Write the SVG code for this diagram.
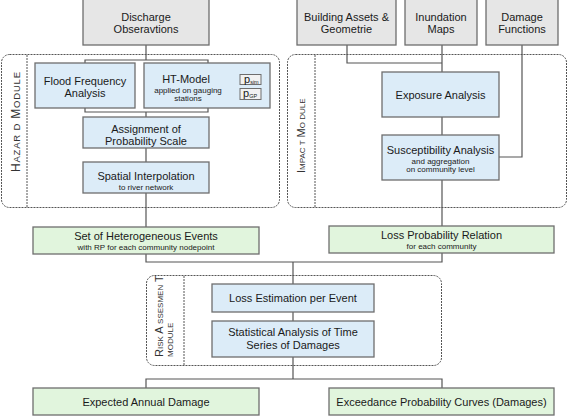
<svg xmlns="http://www.w3.org/2000/svg" width="568" height="416" viewBox="0 0 568 416">
<style>
text{font-family:"Liberation Sans",Arial,sans-serif;fill:#1a1a1a;text-anchor:middle}
.t{font-size:11px}
.s{font-size:8px}
.grey{fill:#e6e6e6;stroke:#6e6e6e;stroke-width:1.3}
.blue{fill:#dcecf8;stroke:#6e6e6e;stroke-width:1.3}
.green{fill:#e1f5dd;stroke:#6e6e6e;stroke-width:1.3}
.mod{fill:none;stroke:#555;stroke-width:1;stroke-dasharray:2,1}
.div{stroke:#555;stroke-width:1;stroke-dasharray:2,1}
.pb{fill:#f2f2f2;stroke:#6e6e6e;stroke-width:1}
.vl{text-anchor:start;font-size:11px;fill:#333}
.sc{font-size:8px}
#conn path{fill:none;stroke:#555;stroke-width:1.2}
</style>

<g id="hazard-module">
<rect class="mod" x="1.5" y="54.5" width="278" height="153" rx="8"/>
<line class="div" x1="27" y1="55" x2="27" y2="207"/>
<text class="vl" transform="translate(19.5,172) rotate(-90)" style="font-size:12px;letter-spacing:0.8px">H<tspan style="font-size:9.5px">AZAR D</tspan> M<tspan style="font-size:9.5px">ODULE</tspan></text>
</g>
<g id="impact-module">
<rect class="mod" x="287.5" y="54.5" width="279" height="153" rx="8"/>
<line class="div" x1="315" y1="55" x2="315" y2="207"/>
<text class="vl" transform="translate(305,173) rotate(-90)">I<tspan class="sc">MPAC T</tspan> M<tspan class="sc">O DULE</tspan></text>
</g>
<g id="risk-module">
<rect class="mod" x="146.5" y="275.5" width="295" height="90" rx="8"/>
<line class="div" x1="184" y1="276" x2="184" y2="365"/>
<text class="vl" transform="translate(163,357) rotate(-90)">R<tspan class="sc">ISK</tspan> A <tspan class="sc">SSESMEN</tspan>  T</text>
<text class="vl" transform="translate(173,357) rotate(-90)"><tspan class="sc">MODULE</tspan></text>
</g>

<g id="conn">
<path d="M146,45V60M85,63V60H208V63"/>
<path d="M85,108V112H208V108M146,112V117"/>
<path d="M146,148V162M146,193V227"/>
<path d="M347,45V63H442M442,45V72M442,117V135M522,45V157H499M442,180V226"/>
<path d="M146,254V262H442V253M293,262V284M293,312V321M293,357V379"/>
<path d="M146,388V379H442V388"/>
</g>

<g id="discharge"><rect class="grey" x="83" y="-1" width="126" height="46"/>
<text class="t" x="146" y="21">Discharge</text><text class="t" x="146" y="33">Obseravtions</text></g>
<g id="building"><rect class="grey" x="297" y="-1" width="99" height="46"/>
<text class="t" x="346.5" y="21">Building Assets &amp;</text><text class="t" x="346.5" y="33">Geometrie</text></g>
<g id="inundation"><rect class="grey" x="405" y="-1" width="72" height="46"/>
<text class="t" x="441" y="21">Inundation</text><text class="t" x="441" y="33">Maps</text></g>
<g id="damage"><rect class="grey" x="486" y="-1" width="72" height="46"/>
<text class="t" x="522" y="21">Damage</text><text class="t" x="522" y="33">Functions</text></g>

<g id="flood"><rect class="blue" x="35" y="63" width="100" height="45"/>
<text class="t" x="85" y="85">Flood Frequency</text><text class="t" x="85" y="97">Analysis</text></g>
<g id="ht"><rect class="blue" x="144" y="63" width="126" height="45"/>
<text class="t" x="186" y="83">HT-Model</text>
<text class="s" x="188" y="93">applied on gauging</text>
<text class="s" x="188" y="101">stations</text>
<rect class="pb" x="240" y="74.5" width="21" height="10"/>
<text x="244" y="83" style="text-anchor:start;font-size:11px">p<tspan font-size="5.5" dy="1">sim</tspan></text>
<rect class="pb" x="240" y="88.5" width="21" height="11"/>
<text x="243" y="97" style="text-anchor:start;font-size:11px">p<tspan font-size="5.5" dy="1">GP</tspan></text></g>
<g id="assignment"><rect class="blue" x="83" y="117" width="126" height="31"/>
<text class="t" x="146" y="133">Assignment of</text><text class="t" x="146" y="145">Probability Scale</text></g>
<g id="spatial"><rect class="blue" x="83" y="162" width="126" height="31"/>
<text class="t" x="146" y="180">Spatial Interpolation</text><text class="s" x="146" y="190">to river network</text></g>

<g id="exposure"><rect class="blue" x="382" y="72" width="117" height="45"/>
<text class="t" x="440.5" y="99">Exposure Analysis</text></g>
<g id="susceptibility"><rect class="blue" x="382" y="135" width="117" height="45"/>
<text class="t" x="440.5" y="154">Susceptibility Analysis</text>
<text class="s" x="440.5" y="164">and aggregation</text>
<text class="s" x="440.5" y="172">on community level</text></g>

<g id="events"><rect class="green" x="33" y="227" width="226" height="27"/>
<text class="t" x="146" y="240">Set of Heterogeneous Events</text>
<text class="s" x="146" y="249.5">with RP for each community nodepoint</text></g>
<g id="lossprob"><rect class="green" x="329" y="226" width="225" height="27"/>
<text class="t" x="441.5" y="239">Loss Probability Relation</text>
<text class="s" x="441.5" y="249">for each community</text></g>

<g id="lossest"><rect class="blue" x="212" y="284" width="162" height="28"/>
<text class="t" x="293" y="301.5">Loss Estimation per Event</text></g>
<g id="statistical"><rect class="blue" x="212" y="321" width="162" height="36"/>
<text class="t" x="293" y="336">Statistical Analysis of Time</text>
<text class="t" x="293" y="349">Series of Damages</text></g>

<g id="expected"><rect class="green" x="33" y="388" width="226" height="27"/>
<text class="t" x="146" y="405.5">Expected Annual Damage</text></g>
<g id="exceedance"><rect class="green" x="329" y="388" width="225" height="27"/>
<text class="t" x="441.5" y="405.5">Exceedance Probability Curves (Damages)</text></g>
</svg>
